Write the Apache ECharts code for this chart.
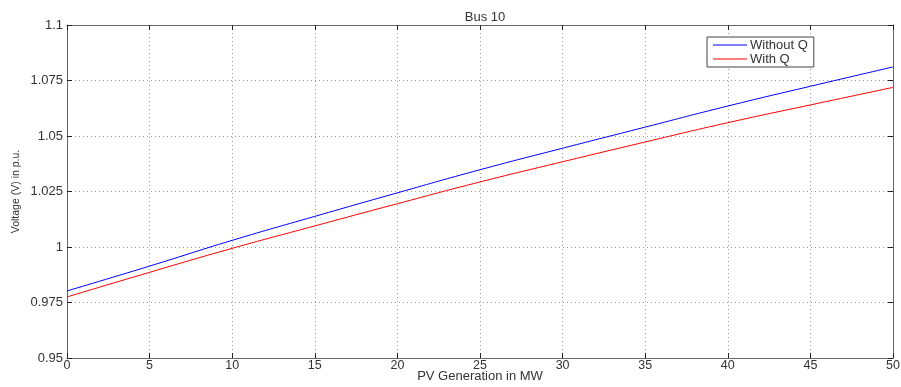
<!DOCTYPE html>
<html>
<head>
<meta charset="utf-8">
<script src="https://cdn.jsdelivr.net/npm/echarts@6/dist/echarts.min.js"></script>
<style>
  html, body { margin: 0; padding: 0; background: #fff; }
  #chart { width: 901px; height: 387px; }
</style>
</head>
<body>
<div id="chart"></div>
<script>
// PV generation (MW) at which the bus voltage was evaluated
const pvGeneration = [0, 5, 10, 15, 20, 25, 30, 35, 40, 45, 50];
// Bus 10 voltage in p.u. without reactive power support
const voltageWithoutQ = [0.9802, 0.9914, 1.0030, 1.0138, 1.0244, 1.0348, 1.0445, 1.0540, 1.0635, 1.0724, 1.0811];
// Bus 10 voltage in p.u. with reactive power support
const voltageWithQ = [0.9775, 0.9886, 0.9994, 1.0095, 1.0195, 1.0293, 1.0384, 1.0473, 1.0560, 1.0640, 1.0719];
// Y tick labels
const yTicks = ['0.95', '0.975', '1', '1.025', '1.05', '1.075', '1.1'];

const FONT = 'Liberation Sans, Arial, Helvetica, sans-serif';
const TEXT = '#333';
const AXIS = '#666';

const toPairs = (xs, ys) => xs.map((x, i) => [x, ys[i]]);

const chart = echarts.init(document.getElementById('chart'), null, { renderer: 'canvas' });

// top / right axes only close the plot box and carry inward ticks
const boxAxis = {
  axisLine: { show: true, onZero: false, lineStyle: { color: AXIS, width: 1 } },
  axisTick: { show: true, inside: true, length: 5, lineStyle: { color: '#222' } },
  axisLabel: { show: false },
  splitLine: { show: false }
};

chart.setOption({
  backgroundColor: '#fff',
  animation: false,
  textStyle: { fontFamily: FONT },
  title: {
    text: 'Bus 10',
    left: 480,
    textAlign: 'center',
    top: 6,
    textStyle: { fontFamily: FONT, fontSize: 13, fontWeight: 'normal', color: TEXT }
  },
  legend: {
    orient: 'vertical',
    left: 707,
    top: 37,
    padding: [1, 6, 1, 6],
    itemGap: 0,
    itemWidth: 34,
    itemHeight: 1,
    borderColor: '#444',
    borderWidth: 1,
    backgroundColor: '#fff',
    icon: 'rect',
    textStyle: { fontFamily: FONT, fontSize: 13, lineHeight: 14, color: TEXT, padding: [0, 0, 0, -2] },
    data: ['Without Q', 'With Q']
  },
  grid: { left: 67, right: 8, top: 25, bottom: 29, containLabel: false, outerBoundsMode: 'none' },
  xAxis: [
    {
      type: 'value', min: 0, max: 50, interval: 5,
      name: 'PV Generation in MW', nameLocation: 'middle', nameGap: 12, nameMoveOverlap: false,
      nameTextStyle: { fontFamily: FONT, fontSize: 13, color: TEXT },
      axisLine: { show: true, onZero: false, lineStyle: { color: AXIS, width: 1 } },
      axisTick: { show: true, inside: true, length: 5, lineStyle: { color: '#222' } },
      axisLabel: { fontFamily: FONT, fontSize: 12.5, color: TEXT, margin: 1 },
      splitLine: { show: true, lineStyle: { color: '#999', type: [1, 3], width: 1 } }
    },
    Object.assign({ type: 'value', position: 'top', min: 0, max: 50, interval: 5 }, boxAxis)
  ],
  yAxis: [
    {
      type: 'value', min: 0.95, max: 1.1, interval: 0.025,
      name: 'Voltage (V) in p.u.', nameLocation: 'middle', nameGap: 45, nameMoveOverlap: false,
      nameTextStyle: { fontFamily: FONT, fontSize: 10.5, color: TEXT },
      axisLine: { show: true, onZero: false, lineStyle: { color: AXIS, width: 1 } },
      axisTick: { show: true, inside: true, length: 5, lineStyle: { color: '#222' } },
      axisLabel: {
        fontFamily: FONT, fontSize: 13, color: TEXT, margin: 4,
        formatter: (v) => {
          const idx = Math.round((v - 0.95) / 0.025);
          return yTicks[idx] !== undefined ? yTicks[idx] : '';
        }
      },
      splitLine: { show: true, lineStyle: { color: '#999', type: [1, 3], width: 1 } }
    },
    Object.assign({ type: 'value', position: 'right', min: 0.95, max: 1.1, interval: 0.025 }, boxAxis)
  ],
  series: [
    {
      name: 'Without Q', type: 'line', showSymbol: false, smooth: true,
      xAxisIndex: 0, yAxisIndex: 0,
      lineStyle: { color: '#0000ff', width: 1 }, itemStyle: { color: '#0000ff' },
      data: toPairs(pvGeneration, voltageWithoutQ)
    },
    {
      name: 'With Q', type: 'line', showSymbol: false, smooth: true,
      xAxisIndex: 0, yAxisIndex: 0,
      lineStyle: { color: '#ff0000', width: 1 }, itemStyle: { color: '#ff0000' },
      data: toPairs(pvGeneration, voltageWithQ)
    }
  ]
});
</script>
</body>
</html>
